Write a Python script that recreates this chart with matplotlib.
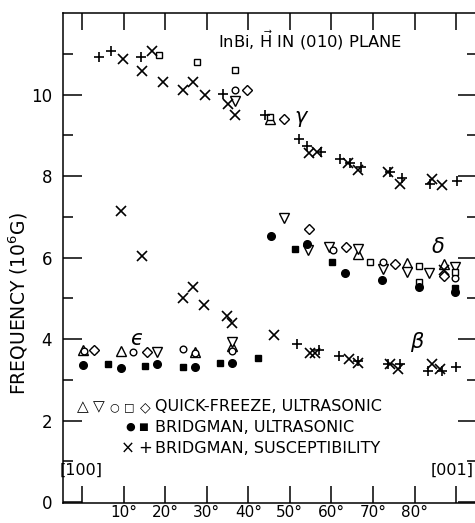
import matplotlib
matplotlib.use("Agg")
import matplotlib.pyplot as plt
from matplotlib.ticker import FixedLocator, FixedFormatter

plt.rcParams['font.family'] = ['DejaVu Sans']

# ---- data (angle in degrees from [100], frequency in 10^6 G) ----
# Quick-freeze, ultrasonic
up_x = [0.2, 9.3, 27.2, 36.0, 45.3, 66.5, 78.1, 87.0]
up_y = [3.73, 3.71, 3.68, 3.83, 9.39, 6.08, 5.86, 5.84]
down_x = [18.1, 36.0, 36.8, 48.5, 54.4, 59.3, 66.5, 72.3, 78.1, 83.4, 89.8]
down_y = [3.68, 3.92, 9.85, 6.98, 6.19, 6.25, 6.20, 5.73, 5.65, 5.62, 5.76]
circ_x = [0.6, 3.0, 12.2, 24.4, 27.2, 36.0, 36.7, 60.3, 72.3, 89.8]
circ_y = [3.72, 3.73, 3.68, 3.76, 3.66, 3.71, 10.10, 6.18, 5.88, 5.51]
sq_x = [18.6, 27.6, 36.7, 45.3, 69.2, 81.0, 81.0, 89.8]
sq_y = [10.97, 10.81, 10.60, 9.46, 5.88, 5.80, 5.40, 5.64]
dia_x = [3.0, 15.6, 39.6, 48.5, 54.5, 63.4, 75.3, 87.0]
dia_y = [3.73, 3.68, 10.12, 9.40, 6.71, 6.25, 5.84, 5.55]

# Bridgman, ultrasonic
fcirc_x = [0.3, 9.3, 18.1, 27.2, 36.0, 45.4, 54.2, 63.3, 72.1, 81.0, 89.8]
fcirc_y = [3.37, 3.28, 3.39, 3.32, 3.41, 6.53, 6.33, 5.61, 5.45, 5.27, 5.16]
fsq_x = [6.3, 15.2, 24.4, 33.2, 42.3, 51.2, 60.2, 89.8]
fsq_y = [3.39, 3.35, 3.32, 3.41, 3.53, 6.22, 5.88, 5.25]

# Bridgman, susceptibility
cross_x = [9.8, 14.5, 16.9, 19.6, 24.4, 26.6, 29.6, 35.1, 36.7, 54.5, 56.5,
           64.1, 66.5, 73.7, 76.4, 84.2, 86.6,
           9.4, 14.4, 24.4, 26.6, 29.4, 34.8, 36.2, 46.2, 54.9, 56.1, 64.3,
           66.3, 74.0, 76.1, 84.2, 86.0, 87.0]
cross_y = [10.87, 10.58, 11.06, 10.31, 10.12, 10.30, 9.98, 9.77, 9.51, 8.56, 8.59,
           8.33, 8.15, 8.10, 7.81, 7.94, 7.77,
           7.14, 6.04, 5.00, 5.27, 4.83, 4.56, 4.40, 4.10, 3.65, 3.66, 3.51,
           3.41, 3.39, 3.27, 3.39, 3.27, 5.69]
plus_x = [4.1, 7.0, 14.1, 34.0, 44.0, 52.1, 54.1, 57.4, 62.1, 64.5, 67.1,
          74.1, 76.9, 83.8, 90.2,
          51.8, 56.9, 61.7, 66.5, 73.7, 76.5, 83.2, 86.6, 90.0]
plus_y = [10.92, 11.06, 10.92, 10.02, 9.51, 8.90, 8.73, 8.59, 8.43, 8.31, 8.23,
          8.09, 7.96, 7.81, 7.88,
          3.88, 3.74, 3.59, 3.46, 3.39, 3.39, 3.22, 3.23, 3.31]

branch_labels = ['γ', 'δ', 'β', 'ϵ']
branch_x = [52.5, 85.7, 80.6, 13.2]
branch_y = [9.46, 6.25, 3.93, 4.00]

x_ticks = [0, 10, 20, 30, 40, 50, 60, 70, 80, 90]
x_tick_labels = ['', '10°', '20°', '30°', '40°', '50°', '60°', '70°', '80°', '']
y_major = [0, 2, 4, 6, 8, 10]
y_minor = [1, 3, 5, 7, 9, 11]

legend_texts = ['QUICK-FREEZE, ULTRASONIC', 'BRIDGMAN, ULTRASONIC',
                'BRIDGMAN, SUSCEPTIBILITY']

# ---- figure ----
W, H = 475, 523
fig = plt.figure(figsize=(W / 100, H / 100), dpi=100)
ax_l, ax_r, ax_t, ax_b = 63, 477, 13, 503
ax = fig.add_axes([ax_l / W, 1 - ax_b / H, (ax_r - ax_l) / W, (ax_b - ax_t) / H])
ax.set_xlim(-4.55, 95.0)
ax.set_ylim(-0.02, 12.0)

k = 'black'
mew = 1.0
ax.plot(up_x, up_y, ls='none', marker='^', ms=7, mfc='white', mec=k, mew=mew)
ax.plot(down_x, down_y, ls='none', marker='v', ms=7, mfc='white', mec=k, mew=mew)
ax.plot(circ_x, circ_y, ls='none', marker='o', ms=4.8, mfc='white', mec=k, mew=mew)
ax.plot(sq_x, sq_y, ls='none', marker='s', ms=5, mfc='white', mec=k, mew=mew)
ax.plot(dia_x, dia_y, ls='none', marker='D', ms=4.6, mfc='white', mec=k, mew=mew)
ax.plot(fcirc_x, fcirc_y, ls='none', marker='o', ms=5.5, mfc=k, mec=k, mew=mew)
ax.plot(fsq_x, fsq_y, ls='none', marker='s', ms=5, mfc=k, mec=k, mew=mew)
ax.plot(cross_x, cross_y, ls='none', marker='x', ms=6.5, mec=k, mew=1.2)
ax.plot(plus_x, plus_y, ls='none', marker='+', ms=7, mec=k, mew=1.2)

for lab, bx, by in zip(branch_labels, branch_x, branch_y):
    ax.text(bx, by, lab, fontsize=15, ha='center', va='center', style='italic')

# axes styling
for s in ax.spines.values():
    s.set_linewidth(1.1)
ax.xaxis.set_major_locator(FixedLocator(x_ticks))
ax.xaxis.set_major_formatter(FixedFormatter(x_tick_labels))
ax.yaxis.set_major_locator(FixedLocator(y_major))
ax.yaxis.set_minor_locator(FixedLocator(y_minor))
ax.tick_params(axis='x', which='major', direction='in', length=12, width=1.1,
               top=True, bottom=True, labelsize=11, pad=1.5)
ax.tick_params(axis='y', which='major', direction='in', length=14, width=1.1,
               left=True, right=True, labelsize=12, pad=8)
ax.tick_params(axis='y', which='minor', direction='in', length=7, width=1.1,
               left=True, right=True)

# title inside plot
ax.text(0.597, 0.945, r'InBi, $\vec{\mathrm{H}}$ IN (010) PLANE', transform=ax.transAxes,
        fontsize=11.8, ha='center', va='center')

# direction markers
ax.text(-0.2, 0.78, '[100]', fontsize=11.5, ha='center', va='center')
ax.text(89.0, 0.78, '[001]', fontsize=11.5, ha='center', va='center')

# legend drawn as text glyphs
row_y = [0.196, 0.155, 0.112]
sym_rows = [
    [('△', 0.048, 11), ('▽', 0.087, 11), ('○', 0.123, 8), ('□', 0.159, 8), ('◇', 0.198, 10)],
    [('●', 0.162, 8), ('■', 0.193, 7.5)],
    [('×', 0.157, 12), ('+', 0.198, 12)],
]
for ry, syms, txt in zip(row_y, sym_rows, legend_texts):
    for g, sx, fs in syms:
        ax.text(sx, ry, g, transform=ax.transAxes, fontsize=fs,
                ha='center', va='center')
    ax.text(0.222, ry, txt, transform=ax.transAxes, fontsize=11.5,
            ha='left', va='center')

fig.text(18 / W, 1 - 304 / H, 'FREQUENCY (10$^6$G)', rotation=90,
         fontsize=13.5, ha='center', va='center')

fig.savefig('out.png', dpi=100)
